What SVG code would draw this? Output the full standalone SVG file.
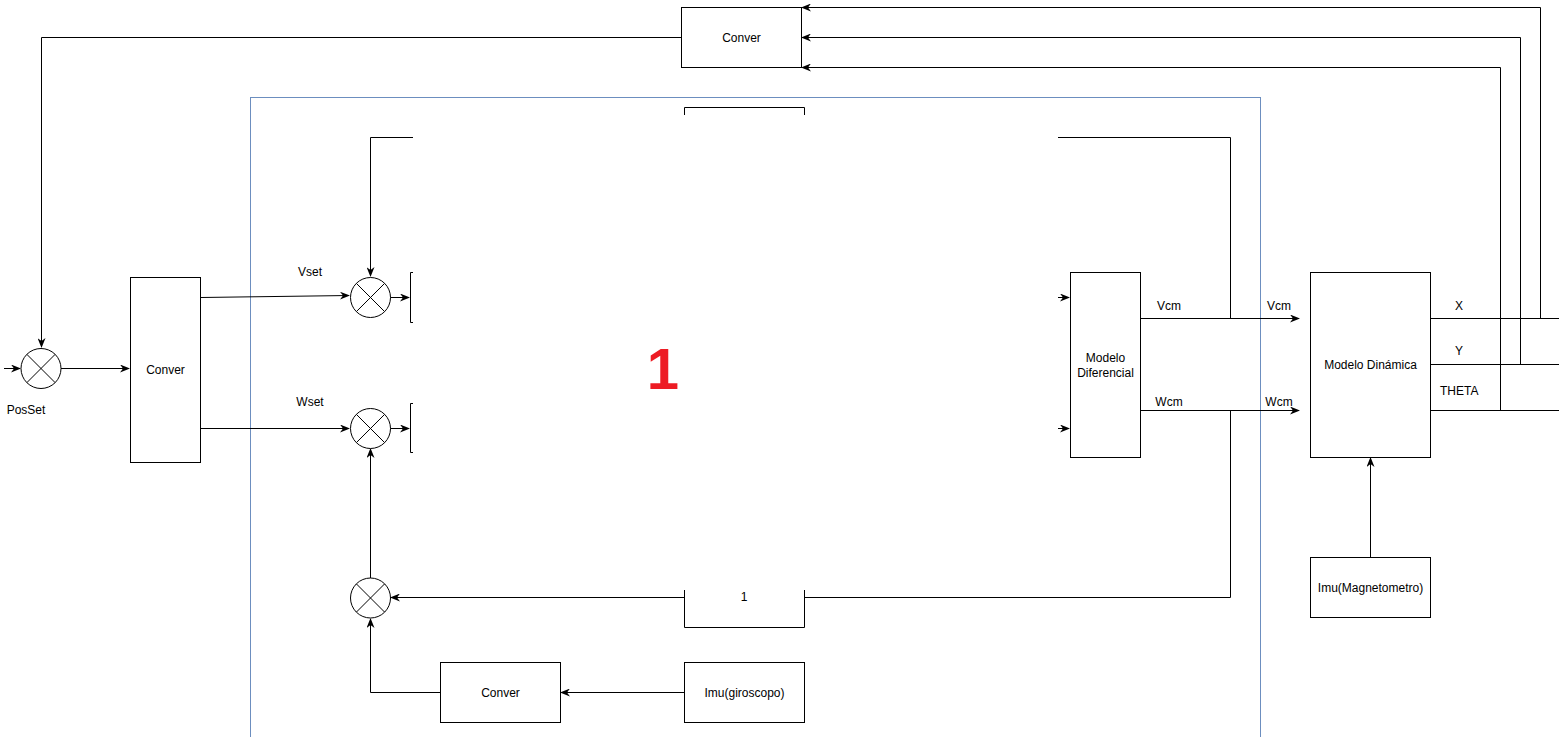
<svg xmlns="http://www.w3.org/2000/svg" width="1559" height="737" viewBox="0 0 1559 737">
<style>
.box{fill:#fff;stroke:#000;stroke-width:1}
.ln{fill:none;stroke:#000;stroke-width:1}
.arr{fill:none;stroke:#000;stroke-width:1;marker-end:url(#ah)}
.t{font-family:"Liberation Sans",Arial,sans-serif;font-size:12px;fill:#000;text-anchor:middle;dominant-baseline:central}
.tl{font-family:"Liberation Sans",Arial,sans-serif;font-size:12px;fill:#000;text-anchor:start;dominant-baseline:central}
.sum circle{fill:#fff;stroke:#000;stroke-width:1}
.sum path{stroke:#000;stroke-width:1;fill:none}
</style>
<defs>
<marker id="ah" viewBox="0 0 10 8" refX="9" refY="4" markerWidth="10" markerHeight="8" markerUnits="userSpaceOnUse" orient="auto">
<path d="M0,0 L10,4 L0,8 L3,4 z" fill="#000"/>
</marker>
</defs>
<rect width="1559" height="737" fill="#fff"/>
<rect x="250.5" y="97.5" width="1010" height="650" fill="none" stroke="#6C8EBF" stroke-width="1"/>
<g id="connectors">
<path class="arr" d="M681,37.5 H41.5 V347"/>
<path class="arr" d="M4,368.5 H20"/>
<path class="arr" d="M61,368.5 H129"/>
<path class="arr" d="M201,297.5 L349,295.5"/>
<path class="arr" d="M201,428.5 H349"/>
<path class="arr" d="M413,137.5 H370.5 V276"/>
<path class="arr" d="M390,297.5 H409"/>
<path class="arr" d="M390,428.5 H409"/>
<path class="arr" d="M370.5,578 V449"/>
<path class="arr" d="M684,597.5 H391"/>
<path class="arr" d="M440,692.5 H370.5 V619"/>
<path class="arr" d="M684,692.5 H561"/>
<path class="ln" d="M804,597.5 H1230.5 V410"/>
<path class="ln" d="M1058,137.5 H1230.5 V318"/>
<path class="arr" d="M1058,297.5 H1069"/>
<path class="arr" d="M1058,428.5 H1069"/>
<path class="arr" d="M1140,318.5 H1299"/>
<path class="arr" d="M1140,410.5 H1299"/>
<path class="arr" d="M1370.5,557 V458"/>
<path class="ln" d="M1430,318.5 H1559"/>
<path class="ln" d="M1430,364.5 H1559"/>
<path class="ln" d="M1430,410.5 H1559"/>
<path class="arr" d="M1540.5,318 V7.5 H802"/>
<path class="arr" d="M1520.5,364 V37.5 H802"/>
<path class="arr" d="M1500.5,410 V67.5 H802"/>
<path class="ln" d="M413,272.5 H410.5 V322.5 H413"/>
<path class="ln" d="M413,403.5 H410.5 V452.5 H413"/>
<path class="ln" d="M684.5,115 V107.5 H804.5 V115"/>
</g>
<g id="conver-top"><rect class="box" x="681.5" y="7.5" width="120" height="60"/><text class="t" x="741.5" y="37.5">Conver</text></g>
<g id="sum-pos" class="sum"><circle cx="41" cy="368.5" r="20"/><path d="M26.9,354.4 L55.1,382.6 M55.1,354.4 L26.9,382.6"/></g>
<g id="posset"><text class="t" x="26" y="410">PosSet</text></g>
<g id="conver-left"><rect class="box" x="130.5" y="277.5" width="70" height="185"/><text class="t" x="165.5" y="369.5">Conver</text></g>
<g id="sum-v" class="sum"><circle cx="370.5" cy="297.5" r="20"/><path d="M356.4,283.4 L384.6,311.6 M384.6,283.4 L356.4,311.6"/></g>
<g id="sum-w" class="sum"><circle cx="370.5" cy="428.5" r="20"/><path d="M356.4,414.4 L384.6,442.6 M384.6,414.4 L356.4,442.6"/></g>
<g id="sum-fb" class="sum"><circle cx="370.5" cy="598" r="20"/><path d="M356.4,583.9 L384.6,612.1 M384.6,583.9 L356.4,612.1"/></g>
<g id="labels">
<text class="t" x="310" y="272">Vset</text>
<text class="t" x="310" y="402">Wset</text>
<text class="t" x="1169" y="306">Vcm</text>
<text class="t" x="1279" y="306">Vcm</text>
<text class="t" x="1169" y="402">Wcm</text>
<text class="t" x="1279" y="402">Wcm</text>
<text class="tl" x="1455" y="306">X</text>
<text class="tl" x="1455" y="351">Y</text>
<text class="tl" x="1440" y="391">THETA</text>
</g>
<g id="gain-1"><path class="ln" d="M684.5,590 V627.5 H804.5 V590"/><text class="t" x="744" y="597">1</text></g>
<g id="conver-bottom"><rect class="box" x="440.5" y="662.5" width="120" height="60"/><text class="t" x="500.5" y="692.5">Conver</text></g>
<g id="imu-giro"><rect class="box" x="684.5" y="662.5" width="120" height="60"/><text class="t" x="744.5" y="692.5">Imu(giroscopo)</text></g>
<g id="modelo-dif"><rect class="box" x="1070.5" y="272.5" width="70" height="185"/><text class="t" x="1105.5" y="358">Modelo</text><text class="t" x="1105.5" y="372.5">Diferencial</text></g>
<g id="modelo-din"><rect class="box" x="1310.5" y="272.5" width="120" height="185"/><text class="t" x="1370.5" y="364.5">Modelo Dinámica</text></g>
<g id="imu-mag"><rect class="box" x="1310.5" y="557.5" width="120" height="60"/><text class="t" x="1370.5" y="587.5">Imu(Magnetometro)</text></g>
<g id="big-one"><text x="663" y="368" font-family="Liberation Sans,Arial,sans-serif" font-size="58" font-weight="bold" fill="#ED1C24" text-anchor="middle" dominant-baseline="central">1</text></g>
</svg>
